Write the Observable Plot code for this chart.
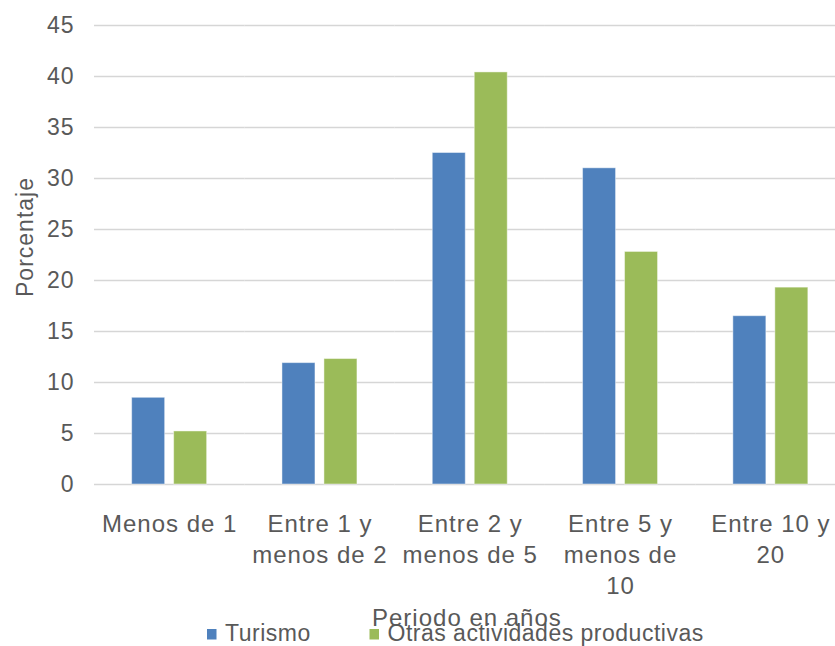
<!DOCTYPE html>
<html><head><meta charset="utf-8">
<script src="https://cdn.jsdelivr.net/npm/d3@7"></script>
<script src="https://cdn.jsdelivr.net/npm/@observablehq/plot@0.6"></script>
<style>
body{margin:0;background:#fff}
svg text{letter-spacing:1px}
svg text.legend{letter-spacing:0.5px}
</style></head><body><div id="chart"></div>
<script>
const categories = ["Menos de 1","Entre 1 y\nmenos de 2","Entre 2 y\nmenos de 5","Entre 5 y\nmenos de\n10","Entre 10 y\n20"];
const series = ["Turismo","Otras actividades productivas"];
const turismo = [8.5, 11.9, 32.5, 31.0, 16.5];
const otras = [5.2, 12.3, 40.4, 22.8, 19.3];
const yTicks = [0, 5, 10, 15, 20, 25, 30, 35, 40, 45];
const colors = ["#4F81BD", "#9BBB59"];
const yLabel = "Porcentaje";
const xLabel = "Periodo en años";

const data = categories.flatMap((c, i) => [
  {cat: c, serie: series[0], value: turismo[i]},
  {cat: c, serie: series[1], value: otras[i]}
]);

const chart = Plot.plot({
  width: 835, height: 646,
  marginTop: 25, marginBottom: 162, marginLeft: 94, marginRight: 0,
  style: {fontFamily: "'Liberation Sans', Arial, sans-serif", color: "#595959", background: "#fff"},
  fx: {domain: categories, range: [94, 845.5], padding: 0, round: false, axis: null, label: null},
  x: {domain: series, paddingInner: 0.214, paddingOuter: 0.897, round: false, axis: null, label: null},
  y: {domain: [0, 45], axis: null, label: null},
  color: {domain: series, range: colors},
  marks: [
    Plot.gridY(yTicks, {stroke: "#d6d6d6", strokeOpacity: 1, strokeWidth: 1.4}),
    Plot.axisY(yTicks, {tickSize: 0, tickPadding: 20, fontSize: 23, fill: "#595959", label: null}),
    Plot.barY(data, {fx: "cat", x: "serie", y: "value", fill: "serie", stroke: "#fff", strokeOpacity: 0.45, strokeWidth: 1}),
    Plot.text(categories, {fx: d => d, text: d => d, frameAnchor: "bottom", lineAnchor: "top", dy: 26, lineHeight: 1.29, fontSize: 24, fill: "#595959"})
  ]
});

const svg = d3.select(chart);
svg.append("text")
  .attr("transform", "translate(33,237) rotate(-90)")
  .attr("text-anchor", "middle").attr("font-size", 23).attr("fill", "#595959")
  .text(yLabel);
svg.append("text")
  .attr("x", 372).attr("y", 626).attr("text-anchor", "start")
  .attr("font-size", 24).attr("fill", "#595959")
  .text(xLabel);
const legendX = [207, 369.5];
series.forEach((s, i) => {
  svg.append("rect").attr("x", legendX[i]).attr("y", 629).attr("width", 9.5).attr("height", 10.5).attr("fill", colors[i]);
  svg.append("text").attr("class", "legend").attr("x", legendX[i] + 18).attr("y", 641).attr("text-anchor", "start")
    .attr("font-size", 23).attr("fill", "#595959").text(s);
});

document.getElementById("chart").appendChild(chart);
</script>
</body></html>
